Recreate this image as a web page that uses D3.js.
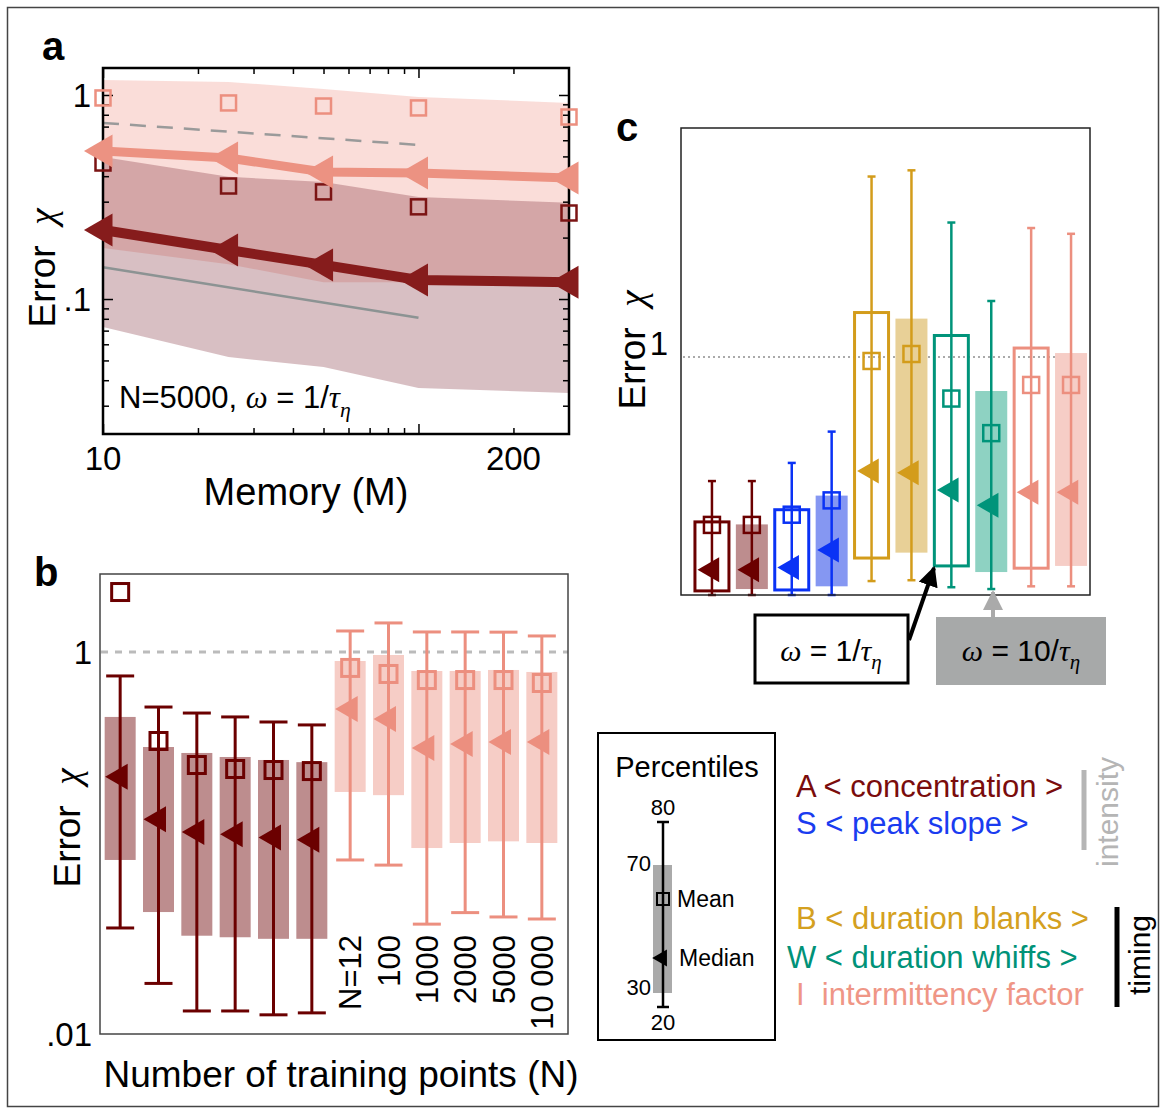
<!DOCTYPE html>
<html lang="en">
<head>
<meta charset="utf-8">
<title>Error vs memory and training points</title>
<script src="https://cdn.jsdelivr.net/npm/d3@7"></script>
<style>
  body { margin: 0; background: #fff; }
  text { font-family: "Liberation Sans", Arial, sans-serif; fill: #000; white-space: pre; }
</style>
</head>
<body>
<script>
// ---- panel a: error vs memory M (N = 5000) ----
var memory = [10, 25, 50, 100, 300];
var concMean = [0.464, 0.358, 0.335, 0.283, 0.264];
var concMedian = [0.218, 0.174, 0.147, 0.124, 0.121];
var concP20 = [0.0729, 0.052, 0.0464, 0.0366, 0.0346];
var concP80 = [0.497, 0.397, 0.375, 0.316, 0.296];
var interMean = [0.967, 0.914, 0.883, 0.864, 0.78];
var interMedian = [0.531, 0.491, 0.419, 0.415, 0.392];
var interP20 = [0.178, 0.148, 0.121, 0.121, 0.12];
var interP80 = [1.184, 1.158, 1.07, 0.978, 0.914];
var refMemory = [10, 100];
var refDashed = [0.729, 0.569];
var refSolid = [0.143, 0.081];

// ---- panel b: error vs number of training points ----
var trainLabels = ["N=12", "100", "1000", "2000", "5000", "10 000"];
var bConcP20 = [0.0359, 0.0184, 0.0132, 0.0132, 0.0126, 0.0129];
var bConcP30 = [0.0815, 0.0435, 0.0327, 0.0321, 0.0315, 0.0315];
var bConcMedian = [0.222, 0.133, 0.114, 0.111, 0.107, 0.104];
var bConcMean = [2.06, 0.342, 0.256, 0.244, 0.241, 0.238];
var bConcP70 = [0.457, 0.318, 0.296, 0.282, 0.272, 0.265];
var bConcP80 = [0.749, 0.515, 0.479, 0.457, 0.43, 0.415];
var bInterP20 = [0.0815, 0.0766, 0.0376, 0.0432, 0.041, 0.04];
var bInterP30 = [0.185, 0.178, 0.0941, 0.1, 0.102, 0.1];
var bInterMedian = [0.503, 0.446, 0.314, 0.33, 0.338, 0.338];
var bInterMean = [0.825, 0.767, 0.713, 0.713, 0.713, 0.688];
var bInterP70 = [0.897, 0.964, 0.795, 0.795, 0.805, 0.786];
var bInterP80 = [1.288, 1.419, 1.273, 1.273, 1.27, 1.213];

// ---- panel c: each feature, omega = 1/tau (open) and 10/tau (filled) ----
var cFeature = ["A", "A", "S", "S", "B", "B", "W", "W", "I", "I"];
var cOmega = [1, 10, 1, 10, 1, 10, 1, 10, 1, 10];
var cP20 = [0.1, 0.1, 0.11, 0.11, 0.127, 0.128, 0.12, 0.118, 0.121, 0.121];
var cP30 = [0.116, 0.118, 0.117, 0.121, 0.157, 0.165, 0.146, 0.138, 0.143, 0.146];
var cMedian = [0.141, 0.141, 0.144, 0.169, 0.35, 0.344, 0.294, 0.255, 0.288, 0.288];
var cMean = [0.213, 0.213, 0.234, 0.267, 0.964, 1.028, 0.682, 0.496, 0.773, 0.773];
var cP70 = [0.219, 0.214, 0.245, 0.279, 1.506, 1.424, 1.219, 0.731, 1.086, 1.037];
var cP80 = [0.319, 0.319, 0.377, 0.503, 5.27, 5.58, 3.45, 1.675, 3.28, 3.11];

var legendNames = ["A", "S", "B", "W", "I"];
var legendTexts = ["A < concentration >", "S < peak slope >", "B < duration blanks >", "W < duration whiffs >", "I  intermittency factor"];

var stroke = { A: "#6b0000", S: "#0a32f5", B: "#d39c1b", W: "#00947a", I: "#ec8f7f" };
var fill = { A: "#bd8d8e", S: "#8597f2", B: "#e8d097", W: "#8ed2c2", I: "#f6cdc6" };
var textColor = { A: "#7a0c0c", S: "#1a3cf0", B: "#d4a020", W: "#009278", I: "#ef9686" };
var serif = "'Liberation Serif', 'DejaVu Serif', serif";

var svg = d3.select("body").append("svg")
    .attr("width", 1165)
    .attr("height", 1113);

svg.append("rect")
    .attr("x", 7.5).attr("y", 7.5)
    .attr("width", 1151).attr("height", 1099)
    .attr("fill", "none").attr("stroke", "#444").attr("stroke-width", 1.5);

function richText(parent, x, y, size, parts) {
    var t = parent.append("text")
        .attr("x", x).attr("y", y)
        .style("font-size", size + "px");
    parts.forEach(function(p) {
        var s = t.append("tspan").text(p[0]);
        if (p[1] != "r") s.style("font-family", serif).style("font-style", "italic");
        if (p[1] == "s") s.style("font-size", (size * 0.7) + "px").attr("dy", size * 0.28);
    });
    return t;
}

function yLabel(x, y) {
    var t = richText(svg, 0, 0, 37, [["Error  ", "r"], ["\u03c7", "i"]]);
    t.attr("text-anchor", "middle")
        .attr("transform", "translate(" + x + "," + y + ") rotate(-90)");
}

var tri = function(side) {
    return d3.symbol().type(d3.symbolTriangle).size(Math.sqrt(3) / 4 * side * side)();
};

// ================= panel a =================
var xa = d3.scaleLog().domain([10, 300]).range([103, 569]);
var ya = d3.scaleLog().domain([0.0218, 1.356]).range([434, 68]);
var ga = svg.append("g");

function bandRows(lo, hi) {
    return memory.map(function(m, i) { return { m: m, lo: lo[i], hi: hi[i] }; });
}
var band = d3.area()
    .x(function(d) { return xa(d.m); })
    .y0(function(d) { return ya(d.lo); })
    .y1(function(d) { return ya(d.hi); });

ga.append("path").datum(bandRows(interP20, interP80))
    .attr("d", band).attr("fill", "#ee9080").attr("fill-opacity", 0.3);
ga.append("path").datum(bandRows(concP20, concP80))
    .attr("d", band).attr("fill", "#6e1420").attr("fill-opacity", 0.27);

var line = d3.line()
    .x(function(d) { return xa(d[0]); })
    .y(function(d) { return ya(d[1]); });

ga.append("path").datum(d3.zip(refMemory, refDashed))
    .attr("d", line).attr("fill", "none")
    .attr("stroke", "#9a9a9a").attr("stroke-width", 2.5).attr("stroke-dasharray", "16,11");
ga.append("path").datum(d3.zip(refMemory, refSolid))
    .attr("d", line).attr("fill", "none")
    .attr("stroke", "#8c9393").attr("stroke-width", 2.5);

// axes, ticks pointing in
var xTicks = xa.ticks().filter(function(d) { return d < 300; });
var yTicks = ya.ticks();
function isMajor(d) { return Math.abs(Math.log10(d) - Math.round(Math.log10(d))) < 1e-6; }
[["bottom", 434], ["top", 68]].forEach(function(o) {
    var ax = (o[0] == "bottom" ? d3.axisBottom(xa) : d3.axisTop(xa))
        .tickValues(xTicks).tickFormat("").tickSizeOuter(0).tickSize(-6);
    var g = ga.append("g").attr("transform", "translate(0," + o[1] + ")").call(ax);
    g.select(".domain").remove();
    g.selectAll(".tick line").attr("stroke-width", 1.5)
        .attr("y2", function(d) { return (o[0] == "bottom" ? -1 : 1) * (isMajor(d) ? 10 : 6); });
});
[["left", 103], ["right", 569]].forEach(function(o) {
    var ax = (o[0] == "left" ? d3.axisLeft(ya) : d3.axisRight(ya))
        .tickValues(yTicks).tickFormat("").tickSizeOuter(0).tickSize(-6);
    var g = ga.append("g").attr("transform", "translate(" + o[1] + ",0)").call(ax);
    g.select(".domain").remove();
    g.selectAll(".tick line").attr("stroke-width", 1.5)
        .attr("x2", function(d) { return (o[0] == "left" ? 1 : -1) * (isMajor(d) ? 10 : 6); });
});
ga.append("rect")
    .attr("x", 103).attr("y", 68).attr("width", 466).attr("height", 366)
    .attr("fill", "none").attr("stroke", "#000").attr("stroke-width", 2.5);

// means (open squares)
function squares(g, xs, ys, color, size, sw) {
    g.selectAll(null).data(d3.zip(xs, ys)).enter().append("rect")
        .attr("x", function(d) { return d[0] - size / 2; })
        .attr("y", function(d) { return d[1] - size / 2; })
        .attr("width", size).attr("height", size)
        .attr("fill", "none").attr("stroke", color).attr("stroke-width", sw);
}
squares(ga, memory.map(xa), interMean.map(ya), "#ec8f7f", 15, 2.5);
squares(ga, memory.map(xa), concMean.map(ya), "#7b1414", 15, 2.5);

// medians (lines with left triangles)
[[interMedian, "#ec9282", 9], [concMedian, "#861c1c", 10]].forEach(function(s) {
    ga.append("path").datum(d3.zip(memory, s[0]))
        .attr("d", line).attr("fill", "none")
        .attr("stroke", s[1]).attr("stroke-width", s[2]);
    ga.selectAll(null).data(d3.zip(memory, s[0])).enter().append("path")
        .attr("d", tri(33))
        .attr("transform", function(d) { return "translate(" + xa(d[0]) + "," + ya(d[1]) + ") rotate(-90)"; })
        .attr("fill", s[1]);
});

ga.selectAll(null).data([10, 200]).enter().append("text")
    .attr("x", function(d) { return xa(d); }).attr("y", 470)
    .attr("text-anchor", "middle").style("font-size", "33px").text(function(d) { return d; });
ga.selectAll(null).data([1, 0.1]).enter().append("text")
    .attr("x", 91).attr("y", function(d) { return ya(d) + 12; })
    .attr("text-anchor", "end").style("font-size", "33px")
    .text(function(d) { return d == 1 ? "1" : ".1"; });
svg.append("text").attr("x", 306).attr("y", 505).attr("text-anchor", "middle")
    .style("font-size", "38px").text("Memory (M)");
yLabel(55, 268);
richText(ga, 119, 408, 31, [["N=5000, ", "r"], ["\u03c9", "i"], [" = 1/", "r"], ["\u03c4", "i"], ["\u03b7", "s"]]);
svg.append("text").attr("x", 42).attr("y", 60).style("font-size", "40px").style("font-weight", "bold").text("a");

// ================= panel b =================
var xb = d3.scaleBand().domain(d3.range(12)).range([101, 561]);
var yb = d3.scaleLog().domain([0.01, 2.56]).range([1034, 574]);
var gb = svg.append("g");

var bRows = [];
trainLabels.forEach(function(n, i) {
    bRows.push({ i: i, c: "A", lo: bConcP20[i], q1: bConcP30[i], med: bConcMedian[i], mean: bConcMean[i], q2: bConcP70[i], hi: bConcP80[i] });
});
trainLabels.forEach(function(n, i) {
    bRows.push({ i: i + 6, c: "I", lo: bInterP20[i], q1: bInterP30[i], med: bInterMedian[i], mean: bInterMean[i], q2: bInterP70[i], hi: bInterP80[i] });
});
function cx(d) { return xb(d.i) + xb.bandwidth() / 2; }

gb.append("line")
    .attr("x1", 101).attr("x2", 568).attr("y1", yb(1)).attr("y2", yb(1))
    .attr("stroke", "#bbb").attr("stroke-width", 3).attr("stroke-dasharray", "7,7");

gb.selectAll(".box").data(bRows).enter().append("rect")
    .attr("x", function(d) { return cx(d) - 15.5; })
    .attr("y", function(d) { return yb(d.q2); })
    .attr("width", 31)
    .attr("height", function(d) { return yb(d.q1) - yb(d.q2); })
    .attr("fill", function(d) { return fill[d.c]; });

var bw = gb.selectAll(".wh").data(bRows).enter().append("g")
    .attr("stroke", function(d) { return stroke[d.c]; })
    .attr("stroke-width", 3);
bw.append("line")
    .attr("x1", cx).attr("x2", cx)
    .attr("y1", function(d) { return yb(d.lo); })
    .attr("y2", function(d) { return yb(d.hi); });
bw.append("line")
    .attr("x1", function(d) { return cx(d) - 14; }).attr("x2", function(d) { return cx(d) + 14; })
    .attr("y1", function(d) { return yb(d.lo); }).attr("y2", function(d) { return yb(d.lo); });
bw.append("line")
    .attr("x1", function(d) { return cx(d) - 14; }).attr("x2", function(d) { return cx(d) + 14; })
    .attr("y1", function(d) { return yb(d.hi); }).attr("y2", function(d) { return yb(d.hi); });

bRows.forEach(function(d) {
    squares(gb, [cx(d)], [yb(d.mean)], stroke[d.c], 17, 3);
});
gb.selectAll(".med").data(bRows).enter().append("path")
    .attr("d", tri(26))
    .attr("transform", function(d) { return "translate(" + cx(d) + "," + yb(d.med) + ") rotate(-90)"; })
    .attr("fill", function(d) { return stroke[d.c]; });

gb.selectAll(".nlab").data(trainLabels).enter().append("text")
    .attr("transform", function(d, i) { return "translate(" + (xb(i + 6) + xb.bandwidth() / 2 + 11) + ",935) rotate(-90)"; })
    .attr("text-anchor", "end").style("font-size", "31px")
    .text(function(d) { return d; });

gb.append("rect")
    .attr("x", 100).attr("y", 574).attr("width", 468).attr("height", 460)
    .attr("fill", "none").attr("stroke", "#444").attr("stroke-width", 1.5);
gb.selectAll(null).data([1, 0.01]).enter().append("text")
    .attr("x", 92).attr("y", function(d) { return yb(d) + 12; })
    .attr("text-anchor", "end").style("font-size", "33px")
    .text(function(d) { return d == 1 ? "1" : ".01"; });
svg.append("text").attr("x", 341).attr("y", 1087).attr("text-anchor", "middle")
    .style("font-size", "37px").text("Number of training points (N)");
yLabel(80, 828);
svg.append("text").attr("x", 34).attr("y", 586).style("font-size", "40px").style("font-weight", "bold").text("b");

// ================= panel c =================
var xc = d3.scaleBand().domain(d3.range(10)).range([692, 1091]);
var yc = d3.scaleLog().domain([0.1117, 8.24]).range([595, 128]).clamp(true);
var gc = svg.append("g");
var cRows = cFeature.map(function(f, i) {
    return { i: i, c: f, open: cOmega[i] == 1, lo: cP20[i], q1: cP30[i], med: cMedian[i], mean: cMean[i], q2: cP70[i], hi: cP80[i] };
});
function ccx(d) { return xc(d.i) + xc.bandwidth() / 2; }

gc.append("line")
    .attr("x1", 683).attr("x2", 1088).attr("y1", yc(1)).attr("y2", yc(1))
    .attr("stroke", "#aaa").attr("stroke-width", 2).attr("stroke-dasharray", "2,3");

gc.selectAll(".box").data(cRows).enter().append("rect")
    .attr("x", function(d) { return ccx(d) - (d.open ? 17 : 16); })
    .attr("y", function(d) { return yc(d.q2); })
    .attr("width", function(d) { return d.open ? 34 : 32; })
    .attr("height", function(d) { return yc(d.q1) - yc(d.q2); })
    .attr("fill", function(d) { return d.open ? "none" : fill[d.c]; })
    .attr("stroke", function(d) { return d.open ? stroke[d.c] : "none"; })
    .attr("stroke-width", 3);

var cw = gc.selectAll(".wh").data(cRows).enter().append("g")
    .attr("stroke", function(d) { return stroke[d.c]; })
    .attr("stroke-width", 2.5);
cw.append("line")
    .attr("x1", ccx).attr("x2", ccx)
    .attr("y1", function(d) { return yc(d.lo); })
    .attr("y2", function(d) { return yc(d.hi); });
cw.append("line")
    .attr("x1", function(d) { return ccx(d) - 4; }).attr("x2", function(d) { return ccx(d) + 4; })
    .attr("y1", function(d) { return yc(d.hi); }).attr("y2", function(d) { return yc(d.hi); });
cw.append("line")
    .attr("x1", function(d) { return ccx(d) - 4; }).attr("x2", function(d) { return ccx(d) + 4; })
    .attr("y1", function(d) { return yc(d.lo); }).attr("y2", function(d) { return yc(d.lo); });

cRows.forEach(function(d) {
    squares(gc, [ccx(d)], [yc(d.mean)], stroke[d.c], 16, 2.5);
});
gc.selectAll(".med").data(cRows).enter().append("path")
    .attr("d", tri(25))
    .attr("transform", function(d) { return "translate(" + ccx(d) + "," + yc(d.med) + ") rotate(-90)"; })
    .attr("fill", function(d) { return stroke[d.c]; });

gc.append("rect")
    .attr("x", 681).attr("y", 128).attr("width", 409).attr("height", 467)
    .attr("fill", "none").attr("stroke", "#222").attr("stroke-width", 1.5);
gc.append("text").attr("x", 668).attr("y", yc(1) - 2)
    .attr("text-anchor", "end").style("font-size", "33px").text("1");
yLabel(645, 350);
svg.append("text").attr("x", 616).attr("y", 141).style("font-size", "40px").style("font-weight", "bold").text("c");

// omega annotations
var defs = svg.append("defs");
[["arrBlack", "#000"], ["arrGray", "#aaa"]].forEach(function(m) {
    defs.append("marker").attr("id", m[0])
        .attr("viewBox", "0 0 10 10").attr("refX", 9).attr("refY", 5)
        .attr("markerWidth", 5).attr("markerHeight", 5).attr("orient", "auto")
        .append("path").attr("d", "M0,0 L10,5 L0,10 z").attr("fill", m[1]);
});
gc.append("rect").attr("x", 936).attr("y", 617).attr("width", 170).attr("height", 68).attr("fill", "#a7a9a9");
gc.append("line").attr("x1", 993).attr("y1", 617).attr("x2", 993).attr("y2", 592)
    .attr("stroke", "#aaa").attr("stroke-width", 4).attr("marker-end", "url(#arrGray)");
gc.append("rect").attr("x", 755).attr("y", 615).attr("width", 153).attr("height", 68)
    .attr("fill", "#fff").attr("stroke", "#000").attr("stroke-width", 3);
gc.append("line").attr("x1", 909).attr("y1", 640).attr("x2", 934).attr("y2", 568)
    .attr("stroke", "#000").attr("stroke-width", 4).attr("marker-end", "url(#arrBlack)");
richText(gc, 831, 661, 30, [["\u03c9", "i"], [" = 1/", "r"], ["\u03c4", "i"], ["\u03b7", "s"]]).attr("text-anchor", "middle");
richText(gc, 1021, 661, 30, [["\u03c9", "i"], [" = 10/", "r"], ["\u03c4", "i"], ["\u03b7", "s"]]).attr("text-anchor", "middle");

// ================= legend =================
var gl = svg.append("g");
gl.append("rect").attr("x", 598).attr("y", 733).attr("width", 177).attr("height", 307)
    .attr("fill", "none").attr("stroke", "#000").attr("stroke-width", 2);
gl.append("text").attr("x", 687).attr("y", 777).attr("text-anchor", "middle")
    .style("font-size", "29px").text("Percentiles");
var pct = d3.scaleLinear().domain([20, 30, 70, 80]).range([1007, 993, 865, 822]);
gl.append("rect").attr("x", 653).attr("y", pct(70)).attr("width", 19).attr("height", pct(30) - pct(70)).attr("fill", "#aaa");
gl.append("line").attr("x1", 663).attr("x2", 663).attr("y1", pct(20)).attr("y2", pct(80))
    .attr("stroke", "#000").attr("stroke-width", 2.5);
[20, 80].forEach(function(p) {
    gl.append("line").attr("x1", 657).attr("x2", 669).attr("y1", pct(p)).attr("y2", pct(p))
        .attr("stroke", "#000").attr("stroke-width", 2.5);
});
squares(gl, [663], [899], "#000", 12, 2);
gl.append("path").attr("d", tri(17)).attr("transform", "translate(662,958) rotate(-90)").attr("fill", "#000");
gl.append("text").attr("x", 663).attr("y", 815).attr("text-anchor", "middle").style("font-size", "22px").text("80");
gl.append("text").attr("x", 663).attr("y", 1030).attr("text-anchor", "middle").style("font-size", "22px").text("20");
gl.append("text").attr("x", 651).attr("y", 871).attr("text-anchor", "end").style("font-size", "22px").text("70");
gl.append("text").attr("x", 651).attr("y", 995).attr("text-anchor", "end").style("font-size", "22px").text("30");
gl.append("text").attr("x", 677).attr("y", 907).style("font-size", "23px").text("Mean");
gl.append("text").attr("x", 679).attr("y", 966).style("font-size", "23px").text("Median");

var legendBase = { A: 797, S: 834, B: 929, W: 968, I: 1005 };
gl.selectAll(".lt").data(legendNames).enter().append("text")
    .attr("x", function(d) { return d == "W" ? 787 : 796; })
    .attr("y", function(d) { return legendBase[d]; })
    .style("font-size", "31px")
    .style("fill", function(d) { return textColor[d]; })
    .text(function(d, i) { return legendTexts[i]; });

gl.append("line").attr("x1", 1084).attr("x2", 1084).attr("y1", 770).attr("y2", 850)
    .attr("stroke", "#b5b5b5").attr("stroke-width", 5);
gl.append("text").attr("transform", "translate(1118,812) rotate(-90)").attr("text-anchor", "middle")
    .style("font-size", "30px").style("fill", "#b5b5b5").text("intensity");
gl.append("line").attr("x1", 1117).attr("x2", 1117).attr("y1", 907).attr("y2", 1007)
    .attr("stroke", "#000").attr("stroke-width", 5);
gl.append("text").attr("transform", "translate(1150,955) rotate(-90)").attr("text-anchor", "middle")
    .style("font-size", "30px").text("timing");
</script>
</body>
</html>
